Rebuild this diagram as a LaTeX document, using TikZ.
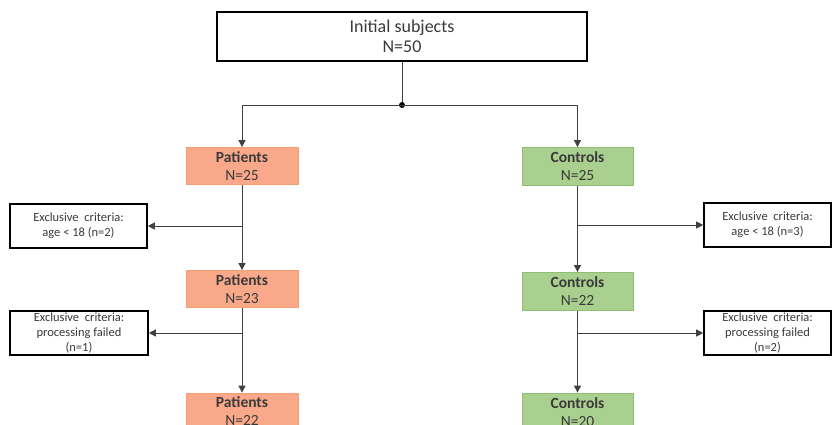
\documentclass[tikz,border=0pt]{standalone}
\usepackage{fontspec}
\setmainfont{Carlito}
\usetikzlibrary{arrows.meta,calc}
\definecolor{txt}{HTML}{3A3A3A}
\definecolor{ln}{HTML}{404040}
\definecolor{pfill}{HTML}{F9A98A}
\definecolor{pdraw}{HTML}{F4A070}
\definecolor{cfill}{HTML}{A9D08E}
\definecolor{cdraw}{HTML}{8EBE70}
\tikzset{
  topbox/.style={draw=black, line width=1.6pt, fill=white, minimum width=370pt, minimum height=49pt, inner sep=0pt, align=center, text=txt, font=\fontsize{18}{19.5}\selectfont},
  patbox/.style={draw=pdraw, line width=0.8pt, fill=pfill, minimum width=112pt, minimum height=37pt, inner sep=0pt, align=center, text=txt, font=\fontsize{15.5}{18}\selectfont},
  conbox/.style={draw=cdraw, line width=0.8pt, fill=cfill, minimum width=111pt, minimum height=38pt, inner sep=0pt, align=center, text=txt, font=\fontsize{15.5}{18}\selectfont},
  exbox/.style={draw=black, line width=1.6pt, fill=white, minimum height=44pt, inner sep=0pt, align=center, text=txt, font=\fontsize{12.5}{15}\selectfont},
  conn/.style={draw=ln, line width=0.9pt},
  arr/.style={conn, -{Triangle[length=7pt,width=7pt]}}
}
\begin{document}
\begin{tikzpicture}[x=1pt,y=-1pt]
\useasboundingbox (0,0) rectangle (832,425);
\clip (0,0) rectangle (832,425);
\node[topbox] (top) at (402,36.5) {Initial subjects\\N=50};
\node[patbox] (p1) at (242,166) {\textbf{Patients}\\N=25};
\node[patbox] (p2) at (242,289) {\textbf{Patients}\\N=23};
\node[patbox] (p3) at (242,411.5) {\textbf{Patients}\\N=22};
\node[conbox] (c1) at (577.5,166.5) {\textbf{Controls}\\N=25};
\node[conbox] (c2) at (577.5,291.5) {\textbf{Controls}\\N=22};
\node[conbox] (c3) at (577.5,412) {\textbf{Controls}\\N=20};
\node[exbox, minimum width=137pt] (e1) at (78.5,226) {Exclusive\ \ criteria:\\age < 18 (n=2)};
\node[exbox, minimum width=138pt] (e2) at (79,333) {Exclusive\ \ criteria:\\processing failed\\(n=1)};
\node[exbox, minimum width=127pt] (r1) at (767.5,225) {Exclusive\ \ criteria:\\age < 18 (n=3)};
\node[exbox, minimum width=127pt] (r2) at (767.5,333) {Exclusive\ \ criteria:\\processing failed\\(n=2)};
\coordinate (j) at (402,105);
\draw[conn] (top.south) -- (j);
\fill[black] (j) circle (3pt);
\draw[arr] (j) -| (p1.north);
\draw[arr] (j) -| (c1.north);
\draw[arr] (p1) -- (p2);
\draw[arr] (p2) -- (p3);
\draw[arr] (c1) -- (c2);
\draw[arr] (c2) -- (c3);
\draw[arr] (p1 |- e1) -- (e1.east);
\draw[arr] (p2 |- e2) -- (e2.east);
\draw[arr] (c1 |- r1) -- (r1.west);
\draw[arr] (c2 |- r2) -- (r2.west);
\end{tikzpicture}
\end{document}
